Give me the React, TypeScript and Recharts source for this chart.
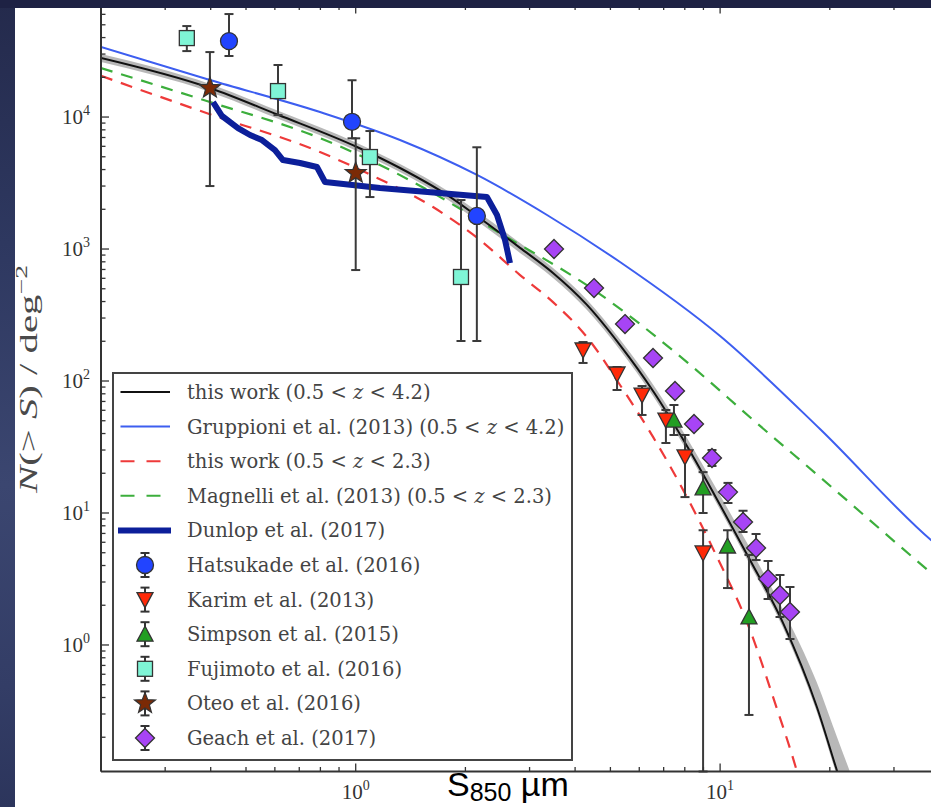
import React from "react";
import { ComposedChart, Line, Area, Scatter, ErrorBar, XAxis, YAxis, Legend } from "recharts";

const SERIF = '"Liberation Serif", "DejaVu Serif", serif';
const LEGEND_FONT = '"DejaVu Serif", "Liberation Serif", serif';
const SANS = '"Liberation Sans", Arial, sans-serif';
const INK = "#333";
const EDGE = "#333";

// axis ranges (S850 in mJy, N(>S) in deg^-2)
const xRange = [0.2, 40];
const yRange = [0.11, 70000];
const xMajor = [1, 10];
const yMajor = [1, 10, 100, 1000, 10000];

// this work, 0.5 < z < 4.2, with its uncertainty band
const thisWorkS = [0.2, 0.398, 0.612, 1.008, 1.323, 1.78, 2.15, 2.825, 3.479, 4.312, 5.313, 6.545, 8.11, 10.0, 12.08, 14.88, 18.43, 20.94, 23.0];
const thisWorkN = [28000, 16600, 10400, 5930, 4110, 2570, 1780, 1020, 658, 377, 187, 84.0, 32.2, 11.5, 4.4, 1.47, 0.339, 0.111, 0.05];
const thisWorkLo = [26100, 15500, 9700, 5530, 3830, 2380, 1640, 935, 603, 345, 172, 77, 29.6, 10.6, 4.05, 1.35, 0.31, 0.101, 0.046];
const thisWorkHi = [30000, 17800, 11150, 6360, 4410, 2780, 1940, 1110, 718, 412, 206, 94, 37.0, 13.6, 5.4, 1.85, 0.52, 0.2, 0.1];

// this work, 0.5 < z < 2.3
const lowZS = [0.2, 0.398, 0.798, 1.074, 1.63, 2.193, 2.825, 3.479, 4.312, 5.313, 6.545, 8.11, 9.806, 12.08, 13.97, 16.24, 17.1];
const lowZN = [20500, 10500, 5430, 3760, 2080, 1170, 635, 396, 215, 93.3, 37.7, 13.2, 4.64, 1.3, 0.404, 0.111, 0.067];

// Gruppioni et al. (2013)
const gruppioniS = [0.2, 0.398, 0.798, 1.323, 2.152, 3.35, 5.313, 10.0, 18.8, 37.9, 40];
const gruppioniN = [33900, 19060, 10910, 6700, 3640, 1810, 797, 219, 43.3, 6.24, 5.5];

// Magnelli et al. (2013)
const magnelliS = [0.2, 0.398, 0.798, 1.094, 1.63, 2.489, 4.508, 8.11, 12.33, 18.8, 37.7, 40];
const magnelliN = [23500, 13000, 6930, 4720, 2660, 1320, 489, 139, 50.6, 18.7, 3.57, 3.11];

// Dunlop et al. (2017)
const dunlopS = [0.406, 0.4297, 0.4753, 0.5129, 0.553, 0.6003, 0.6315, 0.7033, 0.7828, 0.8236, 1.166, 2.291, 2.442, 2.569, 2.651];
const dunlopN = [12990, 10180, 8255, 7307, 6697, 5623, 4722, 4484, 4180, 3219, 2898, 2476, 1810, 1170, 783];

// number counts with error bars (value, lower end, upper end)
const hatsukadeS = [0.449, 0.977, 2.15];
const hatsukadeN = [37600, 9200, 1780];
const hatsukadeLo = [29000, 6900, 201];
const hatsukadeHi = [60300, 19000, 5900];

const karimS = [4.206, 5.214, 6.106, 7.1, 8.01, 8.98];
const karimN = [171.7, 113, 78.3, 50.6, 26.6, 4.98];
const karimLo = [137, 85.5, 55.3, 33.9, 13.2, 0.11];
const karimHi = [197.4, 127.7, 91.6, 60.3, 39, 7.4];

const simpsonS = [7.47, 8.98, 10.48, 12.0];
const simpsonN = [50.6, 15.5, 5.62, 1.63];
const simpsonLo = [39, 10, 2.7, 0.295];
const simpsonHi = [65.8, 20.4, 7.4, 4.81];

const fujimotoS = [0.344, 0.612, 1.094, 1.945];
const fujimotoN = [39650, 15730, 4977, 614];
const fujimotoLo = [31600, 10350, 2476, 201];
const fujimotoHi = [48900, 24790, 7834, 2350];

const oteoS = [0.398, 1.0];
const oteoN = [16580, 3764];
const oteoLo = [3000, 693];
const oteoHi = [31060, 6900];

const geachS = [3.501, 4.508, 5.483, 6.545, 7.52, 8.48, 9.5, 10.51, 11.56, 12.55, 13.54, 14.6, 15.55];
const geachN = [1000, 506, 270, 149.4, 84.0, 47.2, 26.1, 14.4, 8.55, 5.43, 3.16, 2.39, 1.78];
const geachLo = [917, 464, 248, 137, 77, 43.3, 22.7, 11.9, 7.18, 4.4, 2.23, 1.63, 1.11];
const geachHi = [1090, 552, 294, 163, 92, 51.5, 30.0, 16.9, 10.4, 6.93, 4.33, 3.39, 2.75];

const legendLabels = [
  "this work (0.5 < z < 4.2)",
  "Gruppioni et al. (2013) (0.5 < z < 4.2)",
  "this work (0.5 < z < 2.3)",
  "Magnelli et al. (2013) (0.5 < z < 2.3)",
  "Dunlop et al. (2017)",
  "Hatsukade et al. (2016)",
  "Karim et al. (2013)",
  "Simpson et al. (2015)",
  "Fujimoto et al. (2016)",
  "Oteo et al. (2016)",
  "Geach et al. (2017)",
];

const curve = (s: number[], n: number[]) => s.map((v, i) => ({ s: v, n: n[i] }));
const points = (s: number[], n: number[], lo: number[], hi: number[]) =>
  s.map((v, i) => ({ s: v, n: n[i], err: [n[i] - lo[i], hi[i] - n[i]] }));
const band = thisWorkS.map((v, i) => ({ s: v, band: [thisWorkLo[i], thisWorkHi[i]] }));

// every m * 10^k inside the range, for the minor ticks
function logTicks(lo: number, hi: number) {
  const out: number[] = [];
  for (let k = Math.floor(Math.log10(lo)); k <= Math.ceil(Math.log10(hi)); k++) {
    for (let m = 1; m < 10; m++) {
      const v = +(m * Math.pow(10, k)).toPrecision(6);
      if (v >= lo && v <= hi) out.push(v);
    }
  }
  return out;
}
const xTicks = logTicks(xRange[0], xRange[1]);
const yTicks = logTicks(yRange[0], yRange[1]);
const isMajor = (v: number, major: number[]) => major.some((m) => Math.abs(m - v) / m < 1e-6);
const expOf = (v: number) => Math.round(Math.log10(v));

const COLORS = {
  black: "#111",
  blue: "#3d5ef0",
  red: "#ee3a3a",
  green: "#3cae3c",
  dunlop: "#0c1f9a",
  hatsukade: "#2244ff",
  karim: "#ff2a08",
  simpson: "#229e22",
  fujimoto: "#7ff5d6",
  oteo: "#7b2a06",
  geach: "#a744f5",
};

// marker shapes
const circleShape = (fill: string) => (p: any) => (
  <circle cx={p.cx} cy={p.cy} r={8.5} fill={fill} stroke={EDGE} strokeWidth={1.3} />
);
const squareShape = (fill: string) => (p: any) => (
  <rect x={p.cx - 7.5} y={p.cy - 7.5} width={15} height={15} fill={fill} stroke={EDGE} strokeWidth={1.3} />
);
const triDownShape = (fill: string) => (p: any) => (
  <polygon
    points={`${p.cx},${p.cy + 8} ${p.cx - 8},${p.cy - 7} ${p.cx + 8},${p.cy - 7}`}
    fill={fill}
    stroke={EDGE}
    strokeWidth={1.3}
  />
);
const triUpShape = (fill: string) => (p: any) => (
  <polygon
    points={`${p.cx},${p.cy - 8} ${p.cx - 8},${p.cy + 7} ${p.cx + 8},${p.cy + 7}`}
    fill={fill}
    stroke={EDGE}
    strokeWidth={1.3}
  />
);
const diamondShape = (fill: string) => (p: any) => (
  <polygon
    points={`${p.cx},${p.cy - 9.5} ${p.cx + 9.5},${p.cy} ${p.cx},${p.cy + 9.5} ${p.cx - 9.5},${p.cy}`}
    fill={fill}
    stroke={EDGE}
    strokeWidth={1.3}
  />
);
function starPoints(cx: number, cy: number, R: number) {
  const r = R * 0.42;
  const pts: string[] = [];
  for (let i = 0; i < 10; i++) {
    const a = -Math.PI / 2 + (i * Math.PI) / 5;
    const rr = i % 2 === 0 ? R : r;
    pts.push(`${cx + rr * Math.cos(a)},${cy + rr * Math.sin(a)}`);
  }
  return pts.join(" ");
}
const starShape = (fill: string) => (p: any) => (
  <polygon points={starPoints(p.cx, p.cy, 11)} fill={fill} stroke={EDGE} strokeWidth={1.2} />
);

// inward ticks on all four sides, decade labels on bottom / left
const BottomTick = (p: any) => {
  const v = p.payload.value;
  const major = isMajor(v, xMajor);
  return (
    <g>
      <line x1={p.x} y1={p.y} x2={p.x} y2={p.y - (major ? 8 : 4.5)} stroke={INK} strokeWidth={1.3} />
      {major && (
        <text x={p.x} y={p.y + 27} textAnchor="middle" fontFamily={SERIF} fontSize={21} fill={INK}>
          10
          <tspan dy={-9} fontSize={14}>
            {expOf(v)}
          </tspan>
        </text>
      )}
    </g>
  );
};
const TopTick = (p: any) => {
  const major = isMajor(p.payload.value, xMajor);
  return <line x1={p.x} y1={p.y} x2={p.x} y2={p.y + (major ? 8 : 4.5)} stroke={INK} strokeWidth={1.3} />;
};
const LeftTick = (p: any) => {
  const v = p.payload.value;
  const major = isMajor(v, yMajor);
  return (
    <g>
      <line x1={p.x} y1={p.y} x2={p.x + (major ? 8 : 4.5)} y2={p.y} stroke={INK} strokeWidth={1.3} />
      {major && (
        <text x={p.x - 11} y={p.y + 7} textAnchor="end" fontFamily={SERIF} fontSize={21} fill={INK}>
          10
          <tspan dy={-9} fontSize={14}>
            {expOf(v)}
          </tspan>
        </text>
      )}
    </g>
  );
};
const RightTick = (p: any) => {
  const major = isMajor(p.payload.value, yMajor);
  return <line x1={p.x} y1={p.y} x2={p.x - (major ? 8 : 4.5)} y2={p.y} stroke={INK} strokeWidth={1.3} />;
};

// axis titles; the y title is stretched along its baseline like the printed figure
const YTitle = () => (
  <text
    x={37}
    y={379}
    transform="rotate(-90 37 379)"
    textAnchor="middle"
    fontFamily={SERIF}
    fontSize={25}
    fill="#4a4a4a"
    textLength={228}
    lengthAdjust="spacingAndGlyphs"
  >
    <tspan fontStyle="italic">N</tspan>
    <tspan>{"(> "}</tspan>
    <tspan fontStyle="italic">S</tspan>
    <tspan>{") / deg"}</tspan>
    <tspan dy={-10} fontSize={17}>
      {"\u22122"}
    </tspan>
  </text>
);

const XTitle = () => (
  <text x={447} y={796} fontFamily={SANS} fontSize={34} fill="#000">
    S
    <tspan dy={5} fontSize={25}>
      850
    </tspan>
    <tspan dy={-5} fontSize={34}>
      {" \u00b5m"}
    </tspan>
  </text>
);

// legend samples, in the order of legendLabels
const legendSamples: any[] = [
  { line: COLORS.black, width: 2 },
  { line: COLORS.blue, width: 2 },
  { line: COLORS.red, width: 2, dash: "14 12" },
  { line: COLORS.green, width: 2, dash: "14 12" },
  { line: COLORS.dunlop, width: 6 },
  { shape: circleShape(COLORS.hatsukade) },
  { shape: triDownShape(COLORS.karim) },
  { shape: triUpShape(COLORS.simpson) },
  { shape: squareShape(COLORS.fujimoto) },
  { shape: starShape(COLORS.oteo) },
  { shape: diamondShape(COLORS.geach) },
];

function labelText(label: string) {
  const parts = label.split(" z ");
  return parts.map((part, i) => (
    <React.Fragment key={i}>
      <tspan>{part}</tspan>
      {i < parts.length - 1 && (
        <>
          <tspan>{" "}</tspan>
          <tspan fontStyle="italic">z</tspan>
          <tspan>{" "}</tspan>
        </>
      )}
    </React.Fragment>
  ));
}

const LegendBox = () => (
  <svg width={461} height={389} style={{ display: "block" }}>
    <rect x={1} y={1} width={459} height={387} fill="#fff" stroke="#444" strokeWidth={2} />
    {legendLabels.map((label, i) => {
      const cy = 20 + 34.6 * i;
      const s = legendSamples[i];
      return (
        <g key={label}>
          {s.line ? (
            <line
              x1={s.width > 3 ? 6 : 8.5}
              x2={s.width > 3 ? 59 : 58}
              y1={cy}
              y2={cy}
              stroke={s.line}
              strokeWidth={s.width}
              strokeDasharray={s.dash}
            />
          ) : (
            <g>
              <line x1={33} x2={33} y1={cy - 12} y2={cy + 12} stroke={INK} strokeWidth={2} />
              <line x1={28.5} x2={37.5} y1={cy - 12} y2={cy - 12} stroke={INK} strokeWidth={2} />
              <line x1={28.5} x2={37.5} y1={cy + 12} y2={cy + 12} stroke={INK} strokeWidth={2} />
              {s.shape({ cx: 33, cy })}
            </g>
          )}
          <text x={75} y={cy + 7} fontFamily={LEGEND_FONT} fontSize={19.5} fill="#444">
            {labelText(label)}
          </text>
        </g>
      );
    })}
  </svg>
);

const errStyle = { stroke: "#3a3a3a", strokeWidth: 2, width: 4.5 };

export default function App() {
  return (
    <div style={{ position: "absolute", left: 0, top: 0, width: 931, height: 807, overflow: "hidden", background: "#fff" }}>
      <div style={{ position: "absolute", left: 0, top: 0 }}>
        <ComposedChart width={960} height={807} margin={{ top: 4.5, right: 19.5, bottom: 34.5, left: 100 }}>
          <XAxis
            type="number"
            dataKey="s"
            scale="log"
            domain={xRange}
            allowDataOverflow
            ticks={xTicks}
            interval={0}
            height={1}
            tickSize={0}
            tickMargin={0}
            tickLine={false}
            axisLine={{ stroke: INK, strokeWidth: 2 }}
            tick={BottomTick}
            label={<XTitle />}
          />
          <XAxis
            xAxisId="top"
            orientation="top"
            type="number"
            dataKey="s"
            scale="log"
            domain={xRange}
            allowDataOverflow
            ticks={xTicks}
            interval={0}
            height={1}
            tickSize={0}
            tickMargin={0}
            tickLine={false}
            axisLine={{ stroke: INK, strokeWidth: 2 }}
            tick={TopTick}
          />
          <YAxis
            type="number"
            scale="log"
            domain={yRange}
            allowDataOverflow
            ticks={yTicks}
            interval={0}
            width={1}
            tickSize={0}
            tickMargin={0}
            tickLine={false}
            axisLine={{ stroke: INK, strokeWidth: 2 }}
            tick={LeftTick}
            label={<YTitle />}
          />
          <YAxis
            yAxisId="right"
            orientation="right"
            type="number"
            scale="log"
            domain={yRange}
            allowDataOverflow
            ticks={yTicks}
            interval={0}
            width={1}
            tickSize={0}
            tickMargin={0}
            tickLine={false}
            axisLine={{ stroke: INK, strokeWidth: 2 }}
            tick={RightTick}
          />

          <Area data={band} dataKey="band" type="monotone" stroke="none" fill="#9a9a9a" fillOpacity={0.7} isAnimationActive={false} legendType="none" />
          <Line data={curve(gruppioniS, gruppioniN)} dataKey="n" type="monotone" stroke={COLORS.blue} strokeWidth={2} dot={false} isAnimationActive={false} />
          <Line data={curve(lowZS, lowZN)} dataKey="n" type="monotone" stroke={COLORS.red} strokeWidth={2.2} strokeDasharray="12 9" dot={false} isAnimationActive={false} />
          <Line data={curve(magnelliS, magnelliN)} dataKey="n" type="monotone" stroke={COLORS.green} strokeWidth={2.2} strokeDasharray="12 9" dot={false} isAnimationActive={false} />
          <Line data={curve(thisWorkS, thisWorkN)} dataKey="n" type="monotone" stroke={COLORS.black} strokeWidth={2} dot={false} isAnimationActive={false} />
          <Line data={curve(dunlopS, dunlopN)} dataKey="n" type="linear" stroke={COLORS.dunlop} strokeWidth={6} strokeLinejoin="round" dot={false} isAnimationActive={false} />

          <Scatter data={points(hatsukadeS, hatsukadeN, hatsukadeLo, hatsukadeHi)} dataKey="n" shape={circleShape(COLORS.hatsukade)} isAnimationActive={false}>
            <ErrorBar dataKey="err" direction="y" {...errStyle} />
          </Scatter>
          <Scatter data={points(karimS, karimN, karimLo, karimHi)} dataKey="n" shape={triDownShape(COLORS.karim)} isAnimationActive={false}>
            <ErrorBar dataKey="err" direction="y" {...errStyle} />
          </Scatter>
          <Scatter data={points(simpsonS, simpsonN, simpsonLo, simpsonHi)} dataKey="n" shape={triUpShape(COLORS.simpson)} isAnimationActive={false}>
            <ErrorBar dataKey="err" direction="y" {...errStyle} />
          </Scatter>
          <Scatter data={points(fujimotoS, fujimotoN, fujimotoLo, fujimotoHi)} dataKey="n" shape={squareShape(COLORS.fujimoto)} isAnimationActive={false}>
            <ErrorBar dataKey="err" direction="y" {...errStyle} />
          </Scatter>
          <Scatter data={points(oteoS, oteoN, oteoLo, oteoHi)} dataKey="n" shape={starShape(COLORS.oteo)} isAnimationActive={false}>
            <ErrorBar dataKey="err" direction="y" {...errStyle} />
          </Scatter>
          <Scatter data={points(geachS, geachN, geachLo, geachHi)} dataKey="n" shape={diamondShape(COLORS.geach)} isAnimationActive={false}>
            <ErrorBar dataKey="err" direction="y" {...errStyle} />
          </Scatter>

          <Legend
            layout="vertical"
            align="center"
            verticalAlign="middle"
            content={() => <LegendBox />}
            wrapperStyle={{ left: 112, top: 372, width: 461, height: 389 }}
          />
        </ComposedChart>
      </div>
      {/* slide background showing round the figure */}
      <div
        style={{
          position: "absolute",
          left: 0,
          top: 0,
          width: 15,
          height: 807,
          zIndex: 5,
          background: "linear-gradient(to bottom, #242a4c 0%, #2e3860 30%, #3b4670 60%, #333d66 85%, #2c355c 100%)",
        }}
      />
      <div style={{ position: "absolute", left: 0, top: 0, width: 931, height: 8, zIndex: 5, background: "#1e2244" }} />
    </div>
  );
}
